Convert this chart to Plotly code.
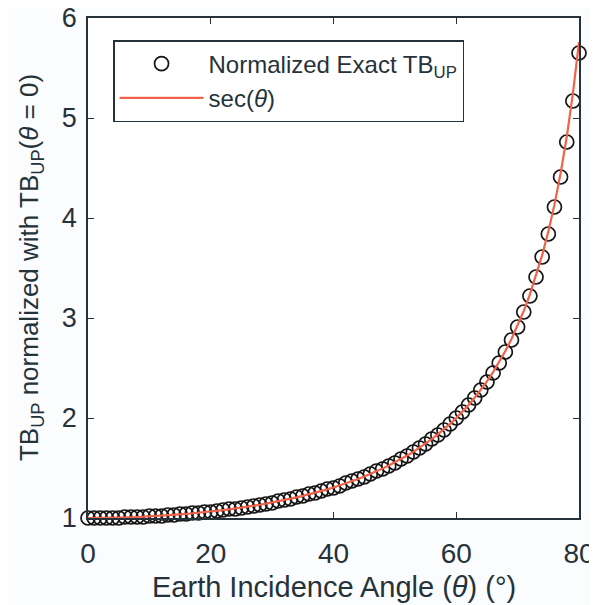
import plotly.graph_objects as go

# Earth incidence angle (degrees)
theta = list(range(0, 81))

# sec(theta) curve values
sec_vals = [1.0000, 1.0002, 1.0006, 1.0014, 1.0024, 1.0038, 1.0055, 1.0075, 1.0098, 1.0125,
            1.0154, 1.0187, 1.0223, 1.0263, 1.0306, 1.0353, 1.0403, 1.0457, 1.0515, 1.0576,
            1.0642, 1.0711, 1.0785, 1.0864, 1.0946, 1.1034, 1.1126, 1.1223, 1.1326, 1.1434,
            1.1547, 1.1666, 1.1792, 1.1924, 1.2062, 1.2208, 1.2361, 1.2521, 1.2690, 1.2868,
            1.3054, 1.3250, 1.3456, 1.3673, 1.3902, 1.4142, 1.4396, 1.4663, 1.4945, 1.5243,
            1.5557, 1.5890, 1.6243, 1.6616, 1.7013, 1.7434, 1.7883, 1.8361, 1.8871, 1.9416,
            2.0000, 2.0627, 2.1301, 2.2027, 2.2812, 2.3662, 2.4586, 2.5593, 2.6695, 2.7904,
            2.9238, 3.0716, 3.2361, 3.4203, 3.6280, 3.8637, 4.1336, 4.4454, 4.8097, 5.2408,
            5.7588]

# Normalized exact TB_UP markers
exact_vals = [1.00, 1.00, 1.00, 1.00, 1.00, 1.00, 1.01, 1.01, 1.01, 1.01,
              1.02, 1.02, 1.02, 1.03, 1.03, 1.04, 1.04, 1.05, 1.05, 1.06,
              1.06, 1.07, 1.08, 1.09, 1.09, 1.10, 1.11, 1.12, 1.13, 1.14,
              1.15, 1.17, 1.18, 1.19, 1.21, 1.22, 1.24, 1.25, 1.27, 1.29,
              1.30, 1.32, 1.35, 1.37, 1.39, 1.41, 1.44, 1.47, 1.49, 1.52,
              1.55, 1.59, 1.62, 1.66, 1.70, 1.74, 1.79, 1.83, 1.88, 1.94,
              2.00, 2.06, 2.13, 2.20, 2.28, 2.36, 2.45, 2.55, 2.66, 2.78,
              2.91, 3.06, 3.22, 3.41, 3.61, 3.84, 4.11, 4.41, 4.76, 5.17,
              5.65]

x_ticks = [0, 20, 40, 60, 80]
y_ticks = [1, 2, 3, 4, 5, 6]

x_title = "Earth Incidence Angle (<i>θ</i>) (°)"
y_title = "TB<sub>UP</sub> normalized with TB<sub>UP</sub>(<i>θ</i> = 0)"

AX = "#26323a"
FONT = "Liberation Sans, Arial, sans-serif"

fig = go.Figure()
fig.add_trace(go.Scatter(
    x=theta, y=exact_vals, mode="markers",
    name="Normalized Exact TB<sub>UP</sub>", legendgroup="a",
    marker=dict(symbol="circle-open", size=14, color="#151515", line=dict(width=1.7)),
    cliponaxis=False,
))
fig.add_trace(go.Scatter(
    x=theta, y=sec_vals, mode="lines",
    name="sec(<i>θ</i>)", legendgroup="b",
    line=dict(color="#f0634a", width=2.2),
    cliponaxis=False,
))

# the page body adds an 8px offset, so the margins are shifted to compensate
fig.update_layout(
    width=597, height=605,
    margin=dict(l=80, r=26, t=10, b=95),
    paper_bgcolor="#fbfcfd", plot_bgcolor="#ffffff",
    font=dict(family=FONT, size=24, color=AX),
    showlegend=True,
    legend=dict(
        x=0.051, y=0.956, xanchor="left", yanchor="top",
        bgcolor="#ffffff", bordercolor=AX, borderwidth=1.5,
        font=dict(size=24, color=AX), itemwidth=84, tracegroupgap=0,
    ),
    xaxis=dict(
        range=[0, 80], tickvals=x_ticks, ticks="inside", ticklen=6,
        showline=True, linecolor=AX, linewidth=1.5, mirror="ticks",
        tickcolor=AX, showgrid=False, zeroline=False, automargin=False,
        tickfont=dict(size=28), ticklabelstandoff=10, ticklabeloverflow="allow",
    ),
    yaxis=dict(
        range=[1, 6], tickvals=y_ticks, ticks="inside", ticklen=6,
        showline=True, linecolor=AX, linewidth=1.5, mirror="ticks",
        tickcolor=AX, showgrid=False, zeroline=False, automargin=False,
        tickfont=dict(size=27), ticklabelstandoff=4, ticklabeloverflow="allow",
    ),
    annotations=[
        dict(text=x_title, xref="paper", yref="paper", x=0.5, y=-0.138,
             xanchor="center", yanchor="middle", showarrow=False,
             font=dict(size=29, color=AX)),
        dict(text=y_title, xref="paper", yref="paper", x=-0.118, y=0.5,
             xanchor="center", yanchor="middle", showarrow=False, textangle=-90,
             font=dict(size=26, color=AX)),
    ],
)

fig.write_html("out.html")
